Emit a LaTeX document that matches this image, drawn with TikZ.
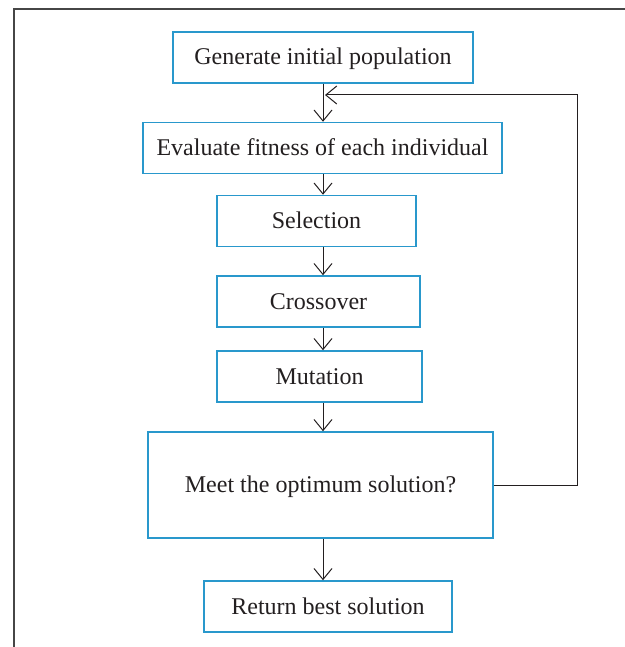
\documentclass[tikz,border=0pt]{standalone}
\usepackage{fontspec}
\setmainfont{Liberation Serif}
\usetikzlibrary{arrows.meta,calc}
\definecolor{boxblue}{RGB}{41, 152, 204}
\definecolor{inkgray}{RGB}{35, 31, 32}
\definecolor{framegray}{RGB}{70, 70, 70}

\begin{document}
\begin{tikzpicture}[x=0.5pt, y=-0.5pt,
  >={Straight Barb[length=5.5pt, width=9pt]},
  font=\fontsize{12}{14}\selectfont,
  gabox/.style={draw=boxblue, line width=0.75pt, text=inkgray,
                text height=10pt, text depth=2.5pt,
                minimum height=25.5pt, inner sep=4pt},
  flow/.style={->, inkgray, line width=0.5pt}]

% =====================================================================
% Pixel grid of the page: 625 x 647, y grows downwards.
% All boxes hang on one vertical spine at x = 323.
% =====================================================================
\useasboundingbox (0,0) rectangle (625,647);

% Page frame (only left and top edges show)
\draw[framegray, line width=1pt] (13.5,647) -- (13.5,9.5) -- (625,9.5);

\def\spineX{323}
\coordinate (spine) at (\spineX, 0);

% ===== Steps of the genetic algorithm =====
\node[gabox, minimum width=150pt]   (gen)   at (323, 57.5)  {Generate initial population};
\node[gabox, minimum width=179.5pt] (eval)  at (322.5, 148) {Evaluate fitness of each individual};
\node[gabox, minimum width=99.5pt]  (sel)   at (316.5, 221) {Selection};
\node[gabox, minimum width=101.5pt] (cross) at (318.5, 301.5) {Crossover};
\node[gabox, minimum width=102.5pt] (mut)   at (319.5, 376.5) {Mutation};
\node[gabox, minimum width=172.5pt, minimum height=53pt]
  (meet) at (320.5, 485) {Meet the optimum solution?};
\node[gabox, minimum width=124pt]   (ret)   at (328, 606.5) {Return best solution};

% ===== Downward flow along the spine =====
\draw[flow] (gen.south -| spine)   -- (eval.north -| spine);
\draw[flow] (eval.south -| spine)  -- (sel.north -| spine);
\draw[flow] (sel.south -| spine)   -- (cross.north -| spine);
\draw[flow] (cross.south -| spine) -- (mut.north -| spine);
\draw[flow] (mut.south -| spine)   -- (meet.north -| spine);
\draw[flow] (meet.south -| spine)  -- (ret.north -| spine);

% ===== Loop back: not optimal yet -> evaluate again =====
\coordinate (loopR)  at (577, 95);
\coordinate (loopIn) at (\spineX + 2, 95);
\draw[flow] (meet.east) -| (loopR) -- (loopIn);

\end{tikzpicture}
\end{document}
